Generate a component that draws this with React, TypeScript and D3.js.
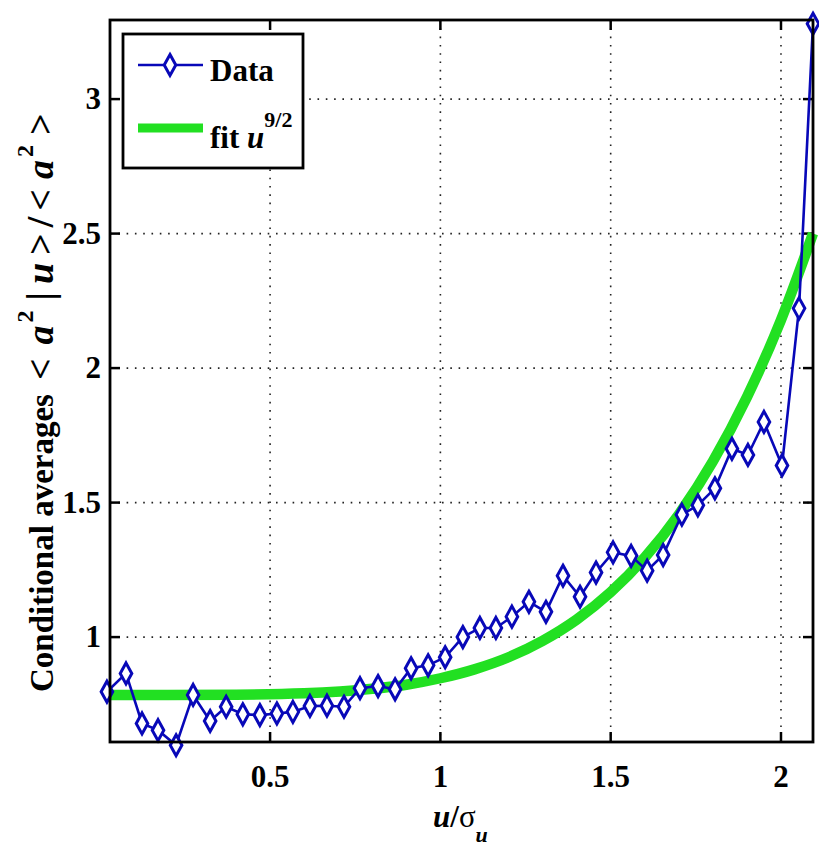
import React from "react";
import * as d3 from "d3";

const uValues = [
  0.021, 0.077, 0.124, 0.171, 0.224, 0.274, 0.324, 0.371, 0.42, 0.47,
  0.52, 0.567, 0.617, 0.667, 0.717, 0.764, 0.817, 0.867, 0.914, 0.964,
  1.014, 1.066, 1.116, 1.163, 1.21, 1.26, 1.31, 1.36, 1.41, 1.457,
  1.507, 1.56, 1.607, 1.654, 1.709, 1.756, 1.806, 1.856, 1.903, 1.95,
  2.003, 2.053, 2.094,
];
const dataValues = [
  0.797, 0.865, 0.679, 0.654, 0.598, 0.785, 0.688, 0.741, 0.713, 0.71,
  0.716, 0.722, 0.744, 0.745, 0.741, 0.81, 0.818, 0.806, 0.884, 0.895,
  0.925, 1.0, 1.034, 1.034, 1.076, 1.131, 1.094, 1.228, 1.15, 1.24,
  1.315, 1.302, 1.247, 1.305, 1.455, 1.49, 1.553, 1.7, 1.677, 1.8,
  1.638, 2.222, 3.28,
];
const fitU = [0.03, 0.2, 0.4, 0.6, 0.8, 0.9, 1.0, 1.1, 1.2, 1.3, 1.4, 1.5, 1.6, 1.7, 1.8, 1.9, 2.0, 2.094];
const fitValues = [0.785, 0.785, 0.786, 0.791, 0.808, 0.823, 0.847, 0.88, 0.925, 0.986, 1.065, 1.167, 1.296, 1.456, 1.653, 1.892, 2.179, 2.5];
const xTicks = [0.5, 1, 1.5, 2];
const xTickLabels = ["0.5", "1", "1.5", "2"];
const yTicks = [1, 1.5, 2, 2.5, 3];
const yTickLabels = ["1", "1.5", "2", "2.5", "3"];

const W = 819;
const H = 851;
const L = 110, R = 813, T = 20, B = 742;
const BLUE = "#0808b8";
const GREEN = "#22e022";
const FONT = "'Liberation Serif', 'DejaVu Serif', serif";

export default function App() {
  const x = d3.scaleLinear().domain([0.03, 2.094]).range([L, R]);
  const y = d3.scaleLinear().domain([0.61, 3.294]).range([B, T]);

  const dataPts = uValues.map((u, i) => [u, dataValues[i]] as [number, number]);
  const fitPts = fitU.map((u, i) => [u, fitValues[i]] as [number, number]);

  const line = d3.line<[number, number]>().x((d) => x(d[0])).y((d) => y(d[1]));
  const fitLine = d3
    .line<[number, number]>()
    .x((d) => x(d[0]))
    .y((d) => y(d[1]))
    .curve(d3.curveMonotoneX);

  const diamond = (cx: number, cy: number) =>
    `M${cx},${cy - 10.5} L${cx + 5.8},${cy} L${cx},${cy + 10.5} L${cx - 5.8},${cy} Z`;

  const tickLen = 10;

  return (
    <svg
      width={W}
      height={H}
      style={{ position: "absolute", left: 0, top: 0, background: "#fff", fontFamily: FONT }}
    >
      <rect x={0} y={0} width={W} height={H} fill="#fff" />
      {/* grid */}
      {xTicks.map((t) => (
        <line
          key={"gx" + t}
          x1={x(t)}
          x2={x(t)}
          y1={T}
          y2={B}
          stroke="#222"
          strokeWidth={1.6}
          strokeDasharray="1.6,6.7"
        />
      ))}
      {yTicks.map((t) => (
        <line
          key={"gy" + t}
          x1={L}
          x2={R}
          y1={y(t)}
          y2={y(t)}
          stroke="#222"
          strokeWidth={1.6}
          strokeDasharray="1.6,6.7"
        />
      ))}
      {/* ticks */}
      {xTicks.map((t) => (
        <g key={"tx" + t}>
          <line x1={x(t)} x2={x(t)} y1={B} y2={B - tickLen} stroke="#000" strokeWidth={2.5} />
          <line x1={x(t)} x2={x(t)} y1={T} y2={T + tickLen} stroke="#000" strokeWidth={2.5} />
        </g>
      ))}
      {yTicks.map((t) => (
        <g key={"ty" + t}>
          <line x1={L} x2={L + tickLen} y1={y(t)} y2={y(t)} stroke="#000" strokeWidth={2.5} />
          <line x1={R} x2={R - tickLen} y1={y(t)} y2={y(t)} stroke="#000" strokeWidth={2.5} />
        </g>
      ))}
      {/* fit curve */}
      <path d={fitLine(fitPts) || ""} fill="none" stroke={GREEN} strokeWidth={10.5} />
      {/* data */}
      <path d={line(dataPts) || ""} fill="none" stroke={BLUE} strokeWidth={2.6} />
      {dataPts.map((d, i) => (
        <path
          key={"m" + i}
          d={diamond(x(d[0]), y(d[1]))}
          fill="#fff"
          stroke={BLUE}
          strokeWidth={3}
        />
      ))}
      {/* frame */}
      <rect x={L} y={T} width={R - L} height={B - T} fill="none" stroke="#000" strokeWidth={2.8} />

      {/* tick labels */}
      {xTicks.map((t, i) => (
        <text
          key={"lx" + t}
          x={x(t)}
          y={787}
          textAnchor="middle"
          fontSize={31}
          fontWeight="bold"
        >
          {xTickLabels[i]}
        </text>
      ))}
      {yTicks.map((t, i) => (
        <text
          key={"ly" + t}
          x={101}
          y={y(t) + 10}
          textAnchor="end"
          fontSize={31}
          fontWeight="bold"
        >
          {yTickLabels[i]}
        </text>
      ))}

      {/* x label */}
      <text x={433} y={827} fontSize={31} fontWeight="bold">
        <tspan fontStyle="italic">u</tspan>
        <tspan>/</tspan>
        <tspan fontWeight="normal">σ</tspan>
        <tspan fontStyle="italic" fontSize={22} dy={15}>u</tspan>
      </text>

      {/* y label */}
      <text
        transform="translate(53,692) rotate(-90)"
        textAnchor="start"
        fontSize={33}
        fontWeight="bold"
      >
        <tspan>Conditional averages</tspan>
        <tspan dx={14} fontSize={38}>&lt;</tspan>
        <tspan dx={14} fontStyle="italic" fontSize={38}>a</tspan>
        <tspan fontSize={24} dy={-20} dx={3}>2</tspan>
        <tspan dy={20} dx={10} fontSize={38}>|</tspan>
        <tspan dx={8} fontStyle="italic" fontSize={38}>u</tspan>
        <tspan dx={8} fontSize={38}>&gt;</tspan>
        <tspan dx={6} fontSize={38}>/</tspan>
        <tspan dx={6} fontSize={38}>&lt;</tspan>
        <tspan dx={10} fontStyle="italic" fontSize={38}>a</tspan>
        <tspan fontSize={24} dy={-20} dx={3}>2</tspan>
        <tspan dy={20} dx={10} fontSize={38}>&gt;</tspan>
      </text>

      {/* legend */}
      <rect x={123} y={34} width={180} height={134} fill="#fff" stroke="#000" strokeWidth={2.8} />
      <line x1={138} x2={203} y1={65} y2={65} stroke={BLUE} strokeWidth={2.6} />
      <path d={diamond(170, 65)} fill="#fff" stroke={BLUE} strokeWidth={3} />
      <text x={210} y={81} fontSize={31} fontWeight="bold">Data</text>
      <line x1={138} x2={203} y1={128} y2={128} stroke={GREEN} strokeWidth={9} />
      <text x={210} y={148} fontSize={31} fontWeight="bold">
        <tspan>fit </tspan>
        <tspan fontStyle="italic">u</tspan>
        <tspan fontSize={22} dy={-21}>9/2</tspan>
      </text>
    </svg>
  );
}
